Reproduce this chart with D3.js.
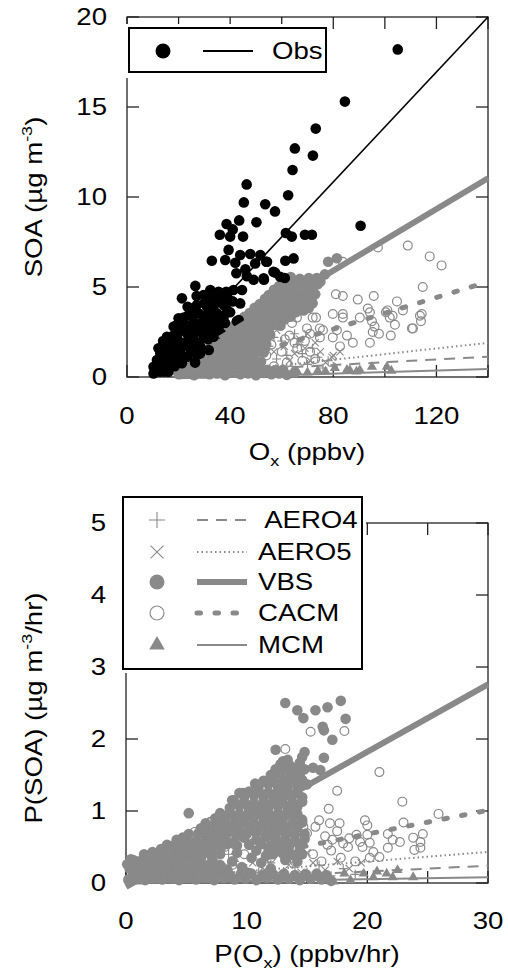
<!DOCTYPE html>
<html><head><meta charset="utf-8">
<script src="https://cdn.jsdelivr.net/npm/d3@7"></script>
<style>body{margin:0;background:#fff}text{font-family:"Liberation Sans",Arial,sans-serif;fill:#000}</style>
</head><body><svg id="c" width="508" height="974"></svg>
<script>
// ---------- DATA: top panel (SOA vs Ox) ----------
const obsTop = [[105,18.2],[84.5,15.3],[73.2,13.8],[65.1,12.7],[72.1,12.3],[64.2,11.5],[46.4,10.7],[62.5,10.1],[45.3,9.7],[53.6,9.6],[57.4,9.2],[43.5,8.7],[38.6,8.5],[50.2,8.6],[90.6,8.4],[36,7.9],[41,8.2],[40,7.8],[45,7.8],[61.6,8.0],[69,7.9],[71.7,7.9],[63.9,7.8],
[39.4,7.06],[43.9,6.78],[47.8,6.83],[51.7,6.78],[32.9,6.46],[38.1,6.5],[42,6.35],[49.7,6.31],[54,6.4],[61.4,6.46],[64.6,6.59],[45.9,5.98],[42.4,5.76],[49.1,5.4],[53,5.48],[56.8,5.85],[59.4,5.57],[61.2,5.5],[57.4,5.8],[46.5,5.6],[53.1,5.4],[54.3,6.4],
[26.5,5.06],[32.3,4.83],[35.5,4.74],[38.5,4.74],[41.3,4.83],[44.6,4.83],[21.3,4.37],[29.7,4.55],[24.5,3.82],[27.1,4.0],[31,3.91],[34.2,4.09],[37.5,4.0],[43.9,4.09],[20,3.26],[23.9,3.44],[27.8,3.54],[31.7,3.72],[34.9,3.54],[38.8,3.72],[43.3,3.17],[36,3.4],[42.6,3.1],[32.9,3.0],
[18.1,2.8],[22.6,2.89],[25.8,3.07],[29.7,3.07],[33.6,3.17],[37.5,3.35],[15.5,2.24],[19.4,2.33],[23.3,2.42],[27.1,2.52],[31,2.61],[35.5,2.7],[14.2,1.69],[18.1,1.78],[22,1.87],[25.8,2.06],[29.7,2.15],[33.6,2.24],[12.9,1.31],[16.8,1.41],[20.7,1.5],[24.5,1.59],[28.4,1.69],[11.6,0.94],[15.5,0.94],[19.4,1.04],[23.3,1.13],[27.1,1.22],[31.7,1.5],[10.3,0.57],[13.6,0.57],[16.8,0.68],[21.3,0.76],[10.3,0.2],[12.9,0.29],[16.1,0.29],[28.3,1.3],[26.4,0.8],
[11,0.4],[12,0.8],[13.5,1.0],[14.5,0.3],[15,1.3],[17,1.0],[17.5,1.9],[18.5,0.6],[19,1.4],[20,2.0],[21,2.6],[21.5,1.1],[22,3.3],[23,1.8],[23.5,3.9],[24,2.2],[25,2.8],[25.5,1.4],[26,3.5],[27,4.5],[27.5,1.9],[28.5,3.0],[29,2.5],[30,4.1],[30.5,3.4],[31.5,2.1],[32,4.4],[33,2.7],[34,3.6],[35,4.4],[35.5,3.1],[36.5,2.4],[37,4.3],[38,3.0],[39,4.4],[40,3.6],[41,4.2],[14,2.0],[16,1.7],[18,2.3],[19.5,2.9],[12.2,1.6]];
const vbsTop = [[20,0.15],[23,0.2],[26,0.1],[29,0.25],[32,0.15],[35,0.2],[38,0.1],[41,0.25],[44,0.15],[47,0.2],[50,0.1],[53,0.22],[56,0.15],[59,0.2],[62,0.12],[65,0.25],
[21.5,0.38],[24.5,0.4],[27.5,0.36],[30.5,0.4],[33.5,0.37],[36.5,0.4],[39.5,0.36],[42.5,0.4],[45.5,0.37],[48.5,0.4],[51.5,0.36],[54.5,0.4],[57.5,0.37],[60.5,0.4],
[23.5,0.55],[26.5,0.65],[29.5,0.6],[32.5,0.7],[35.5,0.55],[38.5,0.65],[41.5,0.6],[44.5,0.7],[47.5,0.55],[50.5,0.6],
[25,0.85],[28,0.87],[31,0.83],[34,0.86],[37,0.84],[40,0.88],[43,0.85],[46,0.83],[49,0.87],[52,0.85],
[27.5,1.05],[30.5,1.15],[33.5,1.1],[36.5,1.2],[39.5,1.05],[42.5,1.15],[45.5,1.1],[48.5,1.0],
[29,1.35],[32,1.37],[35,1.33],[38,1.36],[41,1.34],[44,1.38],[47,1.35],[50,1.33],[53,1.36],
[31.5,1.55],[34.5,1.65],[37.5,1.6],[40.5,1.7],[43.5,1.55],[46.5,1.65],[49.5,1.6],[52,1.5],
[33,1.85],[36,1.87],[39,1.83],[42,1.86],[45,1.84],[48,1.88],[51,1.85],[54,1.83],
[35.5,2.05],[38.5,2.15],[41.5,2.1],[44.5,2.2],[47.5,2.05],[50.5,2.15],[53,2.0],
[37.5,2.35],[40.5,2.37],[43.5,2.33],[46.5,2.36],[49.5,2.34],[52.5,2.38],[55.5,2.35],
[39.5,2.55],[42.5,2.65],[45.5,2.6],[48.5,2.7],[51.5,2.55],[54.5,2.6],
[41.5,2.85],[44.5,2.87],[47.5,2.83],[50.5,2.86],[53.5,2.84],[56.5,2.88],[59.5,2.85],
[43.5,3.05],[46.5,3.15],[49.5,3.1],[52.5,3.2],[55.5,3.05],[58.5,3.1],[61,3.2],
[45.5,3.35],[48.5,3.37],[51.5,3.33],[54.5,3.36],[57.5,3.34],[60.5,3.38],[63.5,3.35],
[47.5,3.55],[50.5,3.65],[53.5,3.6],[56.5,3.7],[59.5,3.55],[62.5,3.65],[65.5,3.6],[68.5,3.7],
[49.5,3.85],[52.5,3.87],[55.5,3.83],[58.5,3.86],[61.5,3.84],[64.5,3.88],[67.5,3.85],[70.5,3.83],
[51.5,4.05],[54.5,4.15],[57.5,4.1],[60.5,4.2],[63.5,4.05],[66.5,4.15],[69.5,4.1],[72,4.1],
[53.5,4.35],[56.5,4.37],[59.5,4.33],[62.5,4.36],[65.5,4.34],[68.5,4.38],[71.5,4.35],
[55,4.55],[58,4.65],[61,4.6],[64,4.7],[67,4.55],[70,4.65],[73,4.6],
[57,4.85],[60,4.87],[63,4.83],[66,4.86],[69,4.84],[72,4.88],
[59,5.05],[62,5.15],[65,5.1],[68,5.2],[71,5.05],[74,5.15],
[61,5.3],[64.5,5.32],[68,5.28],[72,5.3],[75,5.3],
[60,5.5],[63.5,5.55],[67,5.45],[70.5,5.5],[73.6,5.5],[76.7,5.7],[78,6.4],[81.4,6.6]];
const cacmTop = [[97.3,7.2],[108.9,7.3],[117.4,6.7],[122,6.2],[83.7,6.4],[114.7,5.0],[81,4.6],[83.7,4.5],[89.5,4.3],[95.7,4.5],[104.7,4.2],[72,3.3],[73.3,3.3],[79.8,3.5],[83.7,3.5],[83.7,3.3],[90.3,3.3],[93.4,3.8],[94.2,3.6],[100.4,3.6],[101.9,3.3],[107,3.7],[114.3,3.5],[114,3.1],[110.9,2.7],[103.9,2.9],[95,3.1],[96,2.8],[97.7,2.4],[102.3,2.3],[94.2,1.9],[87.6,1.9],[85.3,2.3],[81.4,2.6],[82.6,1.7],[69.8,2.7],[71,2.4],[76,2.6],[79.8,2.2],[74.8,2.2],[65.9,3.3],[61.2,2.1],[65,1.9],[74.8,2.7],[101,3.7],[103,3.4],[113.6,3.4],[110.5,2.7],[95.3,2.5],
[52,2.9],[55,2.5],[58,2.9],[56,1.8],[60,1.4],[63,2.3],[66,1.6],[68,0.9],[71,1.4],[54,1.2],[62,0.8],[57,0.6],[73,1.0],[64,3.0],[69,2.0]];
const aero4Top = [[46,0.8],[50,1.3],[53,0.5],[55,1.7],[58,1.0],[60,2.0],[62,1.2],[64,0.6],[66,1.8],[68,1.3],[70,0.7],[72,1.6],[74,1.1],[76,0.5],[78,0.9],[48,1.9],[57,2.2],[65,2.4],[44,0.4],[80,0.6]];
const aero5Top = [[47,1.1],[51,0.7],[54,1.9],[57,1.4],[59,0.5],[61,1.7],[63,0.9],[65,1.3],[67,2.1],[69,1.6],[71,0.9],[73,1.9],[75,1.4],[77,0.8],[80,1.2],[82.6,1.4],[79.5,1.1],[49,2.3],[58,2.6],[70,2.4]];
const mcmTop = [[22,0.05],[26,0.1],[30,0.08],[34,0.12],[38,0.1],[42,0.15],[46,0.12],[50,0.2],[54,0.15],[58,0.25],[62,0.2],[66,0.3],[70,0.25],[74,0.35],[77,0.3],[80.6,0.5],[85.3,0.4],[86.4,0.38],[89,0.3],[90.3,0.38],[95,0.56],[100.8,0.56],[102.5,0.35]];
// regression lines: slope, intercept, start x (top panel, end at x=140)
const seriesNames = ["AERO4","AERO5","VBS","CACM","MCM"];
const fitTopSlope = {Obs:0.1527, AERO4:0.0077, AERO5:0.0157, VBS:0.0856, CACM:0.0439, MCM:0.0042};
const fitTopIntercept = {Obs:-1.38, AERO4:0.05, AERO5:-0.3, VBS:-0.94, CACM:-0.85, MCM:-0.15};
const fitTopStart = {Obs:10, AERO4:20, AERO5:20, VBS:36, CACM:20, MCM:20};
const xTicksTop = [0,20,40,60,80,100,120,140];
const xLabelsTop = [0,40,80,120];
const yTicksTop = [0,5,10,15,20];

// ---------- DATA: bottom panel (P(SOA) vs P(Ox)) ----------
const vbsBot = [[13.2,2.5],[14.2,2.4],[14.7,2.29],[15.7,2.4],[16.7,2.44],[17.8,2.53],[18.2,2.28],[16.3,2.17],[16.4,2.12],[17.1,1.99],[12.4,1.85],[14.8,1.82],[14.6,1.75],[16.4,1.74],[13.4,1.71],[12.9,1.61],[15.5,1.6],[16.1,1.57],[12.2,1.47],[10.7,1.38],[9.7,1.25],[8.9,1.15],[13.8,1.06],[10.9,1.04],[5.2,0.97],[7.8,0.92],[13.4,0.99],[12.2,0.88],[12.8,0.78],[13.2,0.69],[4.7,0.63],[2.2,0.43],[0.6,0.32],[1.8,0.32],[10.9,1.36],[13,1.69],[13.8,1.57],[14,1.06],[8.8,1.15],[9.4,1.25],
[0.2,0.05],[0.9,0.08],[1.6,0.04],[2.3,0.07],[3.0,0.05],[3.7,0.08],[4.4,0.04],[5.1,0.07],[5.8,0.05],[6.5,0.08],[7.3,0.04],[8.1,0.07],[9,0.05],[9.9,0.06],[10.8,0.04],[11.7,0.07],[12.6,0.05],[13.5,0.06],[14.4,0.04],[15.3,0.06],[16.2,0.05],[17,0.03],
[0.6,0.12],[1.3,0.13],[2.0,0.11],[2.7,0.12],[3.4,0.13],[4.1,0.11],[4.8,0.12],[5.5,0.13],[6.2,0.11],[7.0,0.12],[7.8,0.13],[8.6,0.11],[9.5,0.12],[10.4,0.13],[11.3,0.11],[12.2,0.12],[13.1,0.13],[14,0.11],[14.9,0.12],[15.8,0.13],[16.6,0.11],
[0.3,0.2],[1.0,0.16],[1.7,0.21],[2.4,0.17],[3.1,0.2],[3.8,0.16],[4.5,0.21],[5.2,0.17],[5.9,0.2],[6.6,0.16],[7.4,0.19],
[0.1,0.26],[0.7,0.27],[1.4,0.25],[2.1,0.26],[2.8,0.27],[3.5,0.25],[4.2,0.26],[4.9,0.27],[5.6,0.25],[6.3,0.26],[7.0,0.27],[7.8,0.25],
[0.4,0.33],[1.1,0.3],[1.9,0.34],[2.6,0.31],[3.3,0.35],[4.0,0.3],[4.7,0.33],[5.4,0.31],[6.2,0.34],[7.2,0.3],[13.2,0.32],[14.2,0.3],
[1.5,0.4],[2.2,0.41],[2.9,0.39],[3.6,0.4],[4.3,0.41],[5.0,0.39],[5.7,0.4],[6.4,0.41],[7.1,0.39],[7.8,0.4],[12.2,0.4],[13.0,0.41],[13.8,0.39],[14.6,0.4],
[2.9,0.47],[3.6,0.5],[4.3,0.46],[5.0,0.49],[5.7,0.45],[6.4,0.5],[7.1,0.47],[7.9,0.5],[11.8,0.48],[12.6,0.45],[13.5,0.5],[14.4,0.46],
[3.4,0.53],[4.1,0.54],[4.8,0.52],[5.5,0.53],[6.2,0.54],[6.9,0.52],[7.6,0.53],[8.4,0.54],[9.2,0.52],[10.2,0.53],[11.2,0.54],[12.0,0.52],[12.8,0.53],[13.6,0.54],[14.4,0.52],
[4.2,0.6],[5.0,0.62],[5.8,0.58],[6.6,0.63],[7.4,0.6],[8.2,0.62],[9.0,0.58],[9.8,0.63],[10.8,0.6],[11.6,0.64],[12.4,0.6],[13.2,0.62],[14.0,0.58],[14.8,0.61],
[5.2,0.68],[6.0,0.69],[6.8,0.67],[7.6,0.68],[8.4,0.69],[9.2,0.67],[10,0.68],[10.8,0.69],[11.6,0.67],[12.4,0.68],[13.2,0.69],[14,0.67],[14.8,0.68],
[6.2,0.76],[7.0,0.73],[7.8,0.77],[8.6,0.74],[9.4,0.77],[10.2,0.73],[11.0,0.77],[11.8,0.74],[12.6,0.76],[13.4,0.73],[14.2,0.77],
[6.6,0.83],[7.4,0.84],[8.2,0.82],[9,0.83],[9.8,0.84],[10.6,0.82],[11.4,0.83],[12.2,0.84],[13,0.82],[13.8,0.83],[14.6,0.84],
[7.4,0.9],[8.2,0.88],[9.0,0.92],[9.8,0.89],[10.6,0.92],[11.4,0.88],[12.2,0.91],[13.0,0.89],[13.8,0.92],[14.6,0.88],
[7.8,0.97],[8.6,0.98],[9.4,0.96],[10.2,0.97],[11,0.98],[11.8,0.96],[12.6,0.97],[13.4,0.98],[14.2,0.96],
[8.6,1.04],[9.4,1.07],[10.2,1.03],[11.0,1.06],[11.8,1.04],[12.6,1.07],[13.4,1.03],[14.2,1.06],
[9.0,1.12],[9.8,1.13],[10.6,1.11],[11.4,1.12],[12.2,1.13],[13,1.11],[13.8,1.12],[14.6,1.13],
[9.8,1.2],[10.6,1.22],[11.4,1.18],[12.2,1.21],[13.0,1.19],[13.8,1.22],[14.6,1.19],
[10.2,1.27],[11,1.28],[11.8,1.26],[12.6,1.27],[13.4,1.28],[14.2,1.26],
[11.0,1.35],[11.8,1.37],[12.6,1.33],[13.4,1.36],[14.2,1.34],[15.0,1.37],
[11.4,1.42],[12.2,1.43],[13,1.41],[13.8,1.42],[14.6,1.43],
[12.0,1.5],[12.8,1.52],[13.6,1.48],[14.4,1.51],[12.4,1.58],[13.2,1.59],[14,1.57],[14.8,1.58],
[12.8,1.65],[13.6,1.63],[14.4,1.67],
[8.8,0.3],[9.6,0.22],[10.4,0.35],[11.2,0.28],[12,0.2],[9.2,0.42],[10.8,0.45],[11.6,0.38],[8.4,0.18],[10,0.15]];
const cacmBot = [[15.3,2.1],[13.2,1.86],[18.1,2.11],[21,1.54],[17.5,1.28],[22.9,1.13],[16.8,1.03],[25.9,0.96],[23,0.84],[19.8,0.87],[20,0.8],[16,0.87],[14.7,0.78],[15.7,0.78],[16.9,0.83],[17.7,0.83],[24.6,0.68],[23.8,0.63],[24.4,0.57],[23.9,0.46],[24.4,0.49],[21.7,0.68],[22.1,0.6],[22.7,0.57],[21.7,0.49],[21,0.36],[20.2,0.35],[20.5,0.43],[20,0.67],[20.2,0.56],[19.4,0.57],[19.6,0.5],[19.1,0.67],[18.4,0.5],[17.1,0.6],[16.7,0.53],[13.8,0.6],[15,0.69],[11.7,0.56],[12.5,0.56],[10,1.25],[9.2,1.04],[7.1,0.85],[5.7,0.71],[6.4,0.69],[4.2,0.43],[11.9,1.41],[7.0,0.85],
[5.2,0.55],[6.0,0.45],[7.5,0.62],[8.2,0.5],[9,0.7],[9.8,0.4],[10.5,0.55],[11.2,0.8],[12,0.35],[13,0.48],[14,0.3],[14.5,0.55],[15.5,0.4],[16.2,0.3],[17,0.45],[17.8,0.35],[18.5,0.62],[19,0.3],[16.5,0.65],[17.5,0.72],[18,0.55],[2.5,0.3],[3.5,0.4],[6.8,0.3],[8.8,0.25],[11.5,0.25]];
const aero4Bot = [[3,0.12],[4.5,0.2],[6,0.15],[7,0.25],[8,0.1],[9,0.3],[10,0.2],[11,0.15],[12,0.28],[13,0.12],[14,0.22],[15,0.15],[16,0.25],[17,0.1],[18,0.2],[19,0.12],[8.5,0.4],[10.5,0.35],[13.5,0.38],[5.5,0.35]];
const aero5Bot = [[3.5,0.2],[5,0.1],[6.5,0.25],[7.5,0.15],[8.5,0.22],[9.5,0.12],[10.5,0.28],[11.5,0.18],[12.5,0.12],[13.5,0.25],[14.5,0.15],[15.5,0.28],[16.5,0.18],[17.5,0.3],[18.5,0.2],[19.5,0.28],[9,0.45],[12,0.45],[15,0.42],[7,0.38]];
const mcmBot = [[1,0.02],[2.5,0.04],[4,0.03],[5.5,0.05],[7,0.04],[8.5,0.06],[10,0.05],[11.5,0.07],[13,0.06],[14.5,0.08],[16,0.07],[17.2,0.02],[18.1,0.13],[18.6,0.04],[19.7,0.13],[20.5,0.08],[20.8,0.16],[21.6,0.13],[22.1,0.08],[22.5,0.18],[23.8,0.08]];
const fitBotSlope = {AERO4:0.008, AERO5:0.0134, VBS:0.0938, CACM:0.033, MCM:0.0027};
const fitBotIntercept = {AERO4:0.0, AERO5:0.03, VBS:-0.054, CACM:0.02, MCM:0.0};
const xTicksBot = [0,5,10,15,20,25,30];
const xLabelsBot = [0,10,20,30];
const yTicksBot = [0,1,2,3,4,5];

// ---------- DRAW ----------
const svg = d3.select("#c");
svg.append("rect").attr("width",508).attr("height",974).attr("fill","#fff");
const GRAY = "#898989";
const SX = 1.2;

function addText(parent, x, y, anchor, parts, rot){
  const t = parent.append("text")
    .attr("transform", `translate(${x},${y})` + (rot ? ` rotate(${rot})` : "") + ` scale(${SX},1)`)
    .attr("text-anchor", anchor).attr("font-size", 23);
  let shift = 0;
  parts.forEach(p => {
    const s = t.append("tspan").text(p.t);
    let target = p.sub ? 6 : p.sup ? -10 : 0;
    if (target !== shift) s.attr("dy", target - shift);
    shift = target;
    if (p.sub || p.sup) s.attr("font-size", 15);
  });
  return t;
}

const styles = {
  AERO4:{dash:"11,8", w:2, cap:"butt"},
  AERO5:{dash:"1.5,3", w:2, cap:"butt"},
  VBS:{dash:null, w:6, cap:"butt"},
  CACM:{dash:"3.5,14.5", w:5, cap:"round"},
  MCM:{dash:null, w:2, cap:"butt"}
};

function drawMarkers(g, data, type, x, y, big){
  const sel = g.append("g");
  const k = big ? 1.8 : 1;
  data.forEach(d => {
    const cx = x(d[0]), cy = y(d[1]);
    if (type === "Obs") sel.append("circle").attr("cx",cx).attr("cy",cy).attr("r",big?7.5:5.3).attr("fill","#000");
    else if (type === "VBS") sel.append("circle").attr("cx",cx).attr("cy",cy).attr("r",big?7.5:5.3).attr("fill",GRAY);
    else if (type === "CACM") sel.append("circle").attr("cx",cx).attr("cy",cy).attr("r",big?7:4.4).attr("fill","none").attr("stroke",GRAY).attr("stroke-width",1.2);
    else if (type === "AERO4") { const s=4.5*k; sel.append("path").attr("d",`M${cx-s},${cy}H${cx+s}M${cx},${cy-s}V${cy+s}`).attr("stroke",GRAY).attr("stroke-width",1.1).attr("fill","none"); }
    else if (type === "AERO5") { const s=3.6*k; sel.append("path").attr("d",`M${cx-s},${cy-s}L${cx+s},${cy+s}M${cx-s},${cy+s}L${cx+s},${cy-s}`).attr("stroke",GRAY).attr("stroke-width",1.1).attr("fill","none"); }
    else if (type === "MCM") sel.append("path").attr("transform",`translate(${cx},${cy})`).attr("d", d3.symbol(d3.symbolTriangle, big?105:45)()).attr("fill",GRAY);
  });
}

function frame(g, x, y, xt, yt){
  const [x0,x1] = x.range(), [y0,y1] = y.range();
  const L = 12;
  g.append("rect").attr("x",x0).attr("y",y1).attr("width",x1-x0).attr("height",y0-y1).attr("fill","none").attr("stroke","#222").attr("stroke-width",1.3);
  xt.forEach(v => {
    const px = x(v);
    g.append("line").attr("x1",px).attr("x2",px).attr("y1",y0).attr("y2",y0-L).attr("stroke","#222").attr("stroke-width",1.3);
    g.append("line").attr("x1",px).attr("x2",px).attr("y1",y1).attr("y2",y1+L).attr("stroke","#222").attr("stroke-width",1.3);
  });
  yt.forEach(v => {
    const py = y(v);
    g.append("line").attr("x1",x0).attr("x2",x0+L).attr("y1",py).attr("y2",py).attr("stroke","#222").attr("stroke-width",1.3);
    g.append("line").attr("x1",x1).attr("x2",x1-L).attr("y1",py).attr("y2",py).attr("stroke","#222").attr("stroke-width",1.3);
  });
}

function fitLine(g, x, y, slope, icpt, xs, xe, st, color){
  const line = d3.line().x(d=>x(d)).y(d=>y(slope*d+icpt));
  const p = g.append("path").attr("d", line([xs,xe])).attr("fill","none").attr("stroke",color)
    .attr("stroke-width",st.w).attr("stroke-linecap",st.cap);
  if (st.dash) p.attr("stroke-dasharray", st.dash);
}

// ---- Top panel ----
const xT = d3.scaleLinear().domain([0,140]).range([127,488]);
const yT = d3.scaleLinear().domain([0,20]).range([377,17]);
const gT = svg.append("g");
frame(gT, xT, yT, xTicksTop, yTicksTop);
drawMarkers(gT, vbsTop, "VBS", xT, yT);
drawMarkers(gT, aero4Top, "AERO4", xT, yT);
drawMarkers(gT, aero5Top, "AERO5", xT, yT);
drawMarkers(gT, cacmTop, "CACM", xT, yT);
drawMarkers(gT, mcmTop, "MCM", xT, yT);
drawMarkers(gT, obsTop, "Obs", xT, yT);
seriesNames.forEach(n => fitLine(gT, xT, yT, fitTopSlope[n], fitTopIntercept[n], fitTopStart[n], 140, styles[n], GRAY));
fitLine(gT, xT, yT, fitTopSlope.Obs, fitTopIntercept.Obs, fitTopStart.Obs, 140, {dash:null,w:1.6,cap:"butt"}, "#000");
xLabelsTop.forEach(v => addText(gT, xT(v), 424, "middle", [{t:String(v)}]));
yTicksTop.forEach(v => addText(gT, 107, yT(v)+8, "end", [{t:String(v)}]));
addText(gT, 307, 460, "middle", [{t:"O"},{t:"x",sub:true},{t:" (ppbv)"}]);
addText(gT, 42, 197, "middle", [{t:"SOA (µg m"},{t:"-3",sup:true},{t:")"}], -90);
// legend top
gT.append("rect").attr("x",123).attr("y",24).attr("width",208).attr("height",54).attr("fill","#fff");
gT.append("rect").attr("x",129).attr("y",28).attr("width",197).attr("height",44).attr("fill","#fff").attr("stroke","#000").attr("stroke-width",2);
drawMarkers(gT, [[0,0]], "Obs", ()=>163, ()=>51, true);
gT.append("line").attr("x1",203).attr("x2",253).attr("y1",51).attr("y2",51).attr("stroke","#000").attr("stroke-width",2);
addText(gT, 272, 59, "start", [{t:"Obs"}]);

// ---- Bottom panel ----
const xB = d3.scaleLinear().domain([0,30]).range([126,488]);
const yB = d3.scaleLinear().domain([0,5]).range([883,523]);
const gB = svg.append("g");
frame(gB, xB, yB, xTicksBot, yTicksBot);
drawMarkers(gB, vbsBot, "VBS", xB, yB);
drawMarkers(gB, aero4Bot, "AERO4", xB, yB);
drawMarkers(gB, aero5Bot, "AERO5", xB, yB);
drawMarkers(gB, cacmBot, "CACM", xB, yB);
drawMarkers(gB, mcmBot, "MCM", xB, yB);
seriesNames.forEach(n => fitLine(gB, xB, yB, fitBotSlope[n], fitBotIntercept[n], 0, 30, styles[n], GRAY));
xLabelsBot.forEach(v => addText(gB, xB(v), 929, "middle", [{t:String(v)}]));
yTicksBot.forEach(v => addText(gB, 106, yB(v)+8, "end", [{t:String(v)}]));
addText(gB, 307, 962, "middle", [{t:"P(O"},{t:"x",sub:true},{t:") (ppbv/hr)"}]);
addText(gB, 42, 708, "middle", [{t:"P(SOA) (µg m"},{t:"-3",sup:true},{t:"/hr)"}], -90);
// legend bottom
gB.append("rect").attr("x",119).attr("y",493).attr("width",247).attr("height",180).attr("fill","#fff");
gB.append("rect").attr("x",123).attr("y",497).attr("width",239).attr("height",172).attr("fill","#fff").attr("stroke","#000").attr("stroke-width",2);
const legendRowY = [520,552,582,613,645];
const legendLabels = [" AERO4","AERO5","VBS","CACM","MCM"];
seriesNames.forEach((n,i) => {
  const ly = legendRowY[i];
  drawMarkers(gB, [[0,0]], n, ()=>157, ()=>ly, true);
  const st = styles[n];
  const l = gB.append("line").attr("x1",197).attr("x2",247).attr("y1",ly).attr("y2",ly).attr("stroke",GRAY).attr("stroke-width",st.w).attr("stroke-linecap",st.cap);
  if (st.dash) l.attr("stroke-dasharray", st.dash);
  addText(gB, 258, ly+8, "start", [{t:legendLabels[i]}]).style("white-space","pre");
});
</script>
</body></html>
